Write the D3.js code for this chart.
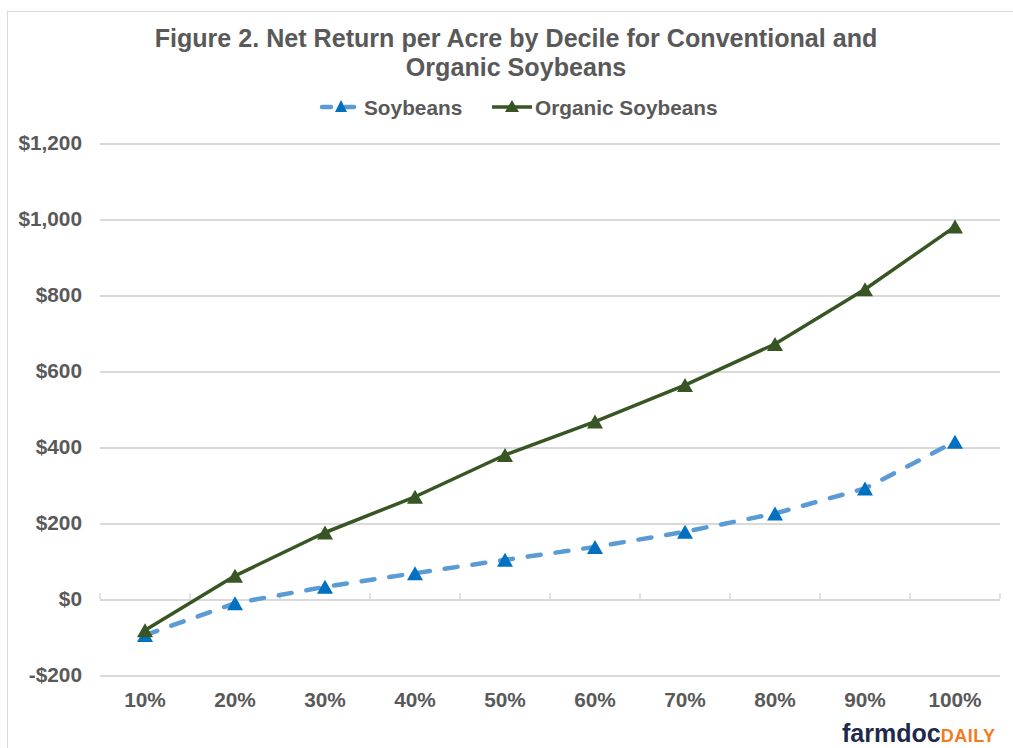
<!DOCTYPE html>
<html>
<head>
<meta charset="utf-8">
<script src="https://cdn.jsdelivr.net/npm/d3@7"></script>
<style>
  html, body { margin: 0; padding: 0; background: #fff; }
  svg { display: block; }
  text { font-family: "Liberation Sans", Arial, sans-serif; }
</style>
</head>
<body>
<svg id="chart" width="1013" height="748"></svg>
<script>
const categories = ["10%", "20%", "30%", "40%", "50%", "60%", "70%", "80%", "90%", "100%"];
const soybeans = [-95, -11, 32, 68, 103, 137, 177, 225, 291, 414];
const organicSoybeans = [-82, 61, 175, 269, 379, 467, 563, 671, 815, 980];
const yTicks = [-200, 0, 200, 400, 600, 800, 1000, 1200];
const titleLines = ["Figure 2. Net Return per Acre by Decile for Conventional and", "Organic Soybeans"];
const seriesNames = ["Soybeans", "Organic Soybeans"];

const W = 1013, H = 748;
const margin = { left: 100, right: 13, top: 143, bottom: 73 };
const svg = d3.select("#chart");
const textColor = "#595959";
const gridColor = "#d9d9d9";

// chart border
svg.append("rect").attr("x", 7.5).attr("y", 11.5).attr("width", 1200).attr("height", 1000)
  .attr("fill", "none").attr("stroke", gridColor).attr("stroke-width", 1);

const x = d3.scaleBand().domain(categories).range([margin.left, W - margin.right]).padding(0);
const y = d3.scaleLinear().domain([-200, 1200]).range([H - margin.bottom, margin.top]);

// gridlines via axis
const yAxis = d3.axisLeft(y).tickValues(yTicks)
  .tickSize(-(W - margin.left - margin.right))
  .tickFormat(d => (d < 0 ? "-$" : "$") + d3.format(",")(Math.abs(d)));
const gy = svg.append("g").attr("transform", `translate(${margin.left},0)`).call(yAxis);
gy.select(".domain").remove();
gy.selectAll(".tick line").attr("stroke", gridColor).attr("stroke-width", 2).attr("shape-rendering", "crispEdges");
gy.selectAll(".tick text").attr("x", -18).attr("dy", "0.3em")
  .attr("fill", textColor).attr("font-size", "20.8px").attr("font-weight", "bold")
  .attr("font-family", "'Liberation Sans', Arial, sans-serif");

// category axis on zero line: ticks at category boundaries pointing up
const bounds = categories.map(c => x(c)).concat([x(categories[categories.length - 1]) + x.bandwidth()]);
svg.append("g").selectAll("line").data(bounds).join("line")
  .attr("x1", d => d).attr("x2", d => d)
  .attr("y1", y(0) - 6).attr("y2", y(0))
  .attr("stroke", gridColor).attr("stroke-width", 1.5);

// category labels
const xAxis = d3.axisBottom(x).tickSize(0).tickPadding(0);
const gx = svg.append("g").attr("transform", `translate(0,${H - margin.bottom})`).call(xAxis);
gx.select(".domain").remove();
gx.selectAll(".tick text").attr("y", 32).attr("dy", 0)
  .attr("fill", textColor).attr("font-size", "20.8px").attr("font-weight", "bold")
  .attr("font-family", "'Liberation Sans', Arial, sans-serif");

const cx = c => x(c) + x.bandwidth() / 2;
const line = d3.line().x(d => cx(d.c)).y(d => y(d.v));

const soyData = categories.map((c, i) => ({ c, v: soybeans[i] }));
const orgData = categories.map((c, i) => ({ c, v: organicSoybeans[i] }));

const soyLine = "#5b9bd5", soyMarker = "#0070c0", orgColor = "#375623";

function tri(cxp, cyp, w, h) {
  return `M${cxp},${cyp - h / 2}L${cxp + w / 2},${cyp + h / 2}L${cxp - w / 2},${cyp + h / 2}Z`;
}

// soybeans series
svg.append("path").datum(soyData).attr("d", line)
  .attr("fill", "none").attr("stroke", soyLine).attr("stroke-width", 4.5)
  .attr("stroke-dasharray", "13,15").attr("stroke-linecap", "round");

// organic series
svg.append("path").datum(orgData).attr("d", line)
  .attr("fill", "none").attr("stroke", orgColor).attr("stroke-width", 3.5)
  .attr("stroke-linejoin", "round");

svg.append("g").selectAll("path").data(soyData).join("path")
  .attr("d", d => tri(cx(d.c), y(d.v), 16, 14)).attr("fill", soyMarker);
svg.append("g").selectAll("path").data(orgData).join("path")
  .attr("d", d => tri(cx(d.c), y(d.v), 16, 14)).attr("fill", orgColor);

// title
svg.append("g").selectAll("text").data(titleLines).join("text")
  .attr("x", 516).attr("y", (d, i) => 47 + i * 28.5)
  .attr("text-anchor", "middle").attr("fill", textColor)
  .attr("font-size", "25.1px").attr("font-weight", "bold")
  .text(d => d);

// legend
const ly = 107;
const lg = svg.append("g");
// soybeans legend
lg.append("line").attr("x1", 322).attr("x2", 360).attr("y1", ly).attr("y2", ly)
  .attr("stroke", soyLine).attr("stroke-width", 4.5).attr("stroke-dasharray", "9,14").attr("stroke-linecap", "round");
lg.append("path").attr("d", tri(341, ly - 1, 12, 12)).attr("fill", soyMarker);
lg.append("text").attr("x", 364).attr("y", ly + 7.5).attr("fill", textColor)
  .attr("font-size", "20.8px").attr("font-weight", "bold").text(seriesNames[0]);
// organic legend
lg.append("line").attr("x1", 492).attr("x2", 532).attr("y1", ly).attr("y2", ly)
  .attr("stroke", orgColor).attr("stroke-width", 3.5);
lg.append("path").attr("d", tri(512, ly - 1, 14, 12)).attr("fill", orgColor);
lg.append("text").attr("x", 535).attr("y", ly + 7.5).attr("fill", textColor)
  .attr("font-size", "20.8px").attr("font-weight", "bold").text(seriesNames[1]);

// logo
const logo = svg.append("text").attr("x", 842).attr("y", 742)
  .attr("font-family", "Lato, 'Open Sans', sans-serif").attr("font-weight", "900");
logo.append("tspan").attr("fill", "#1f2a4a").attr("font-size", "25px").text("farmdoc");
logo.append("tspan").attr("fill", "#f47a20").attr("font-size", "18px").attr("letter-spacing", "0.5").text("DAILY");
</script>
</body>
</html>
